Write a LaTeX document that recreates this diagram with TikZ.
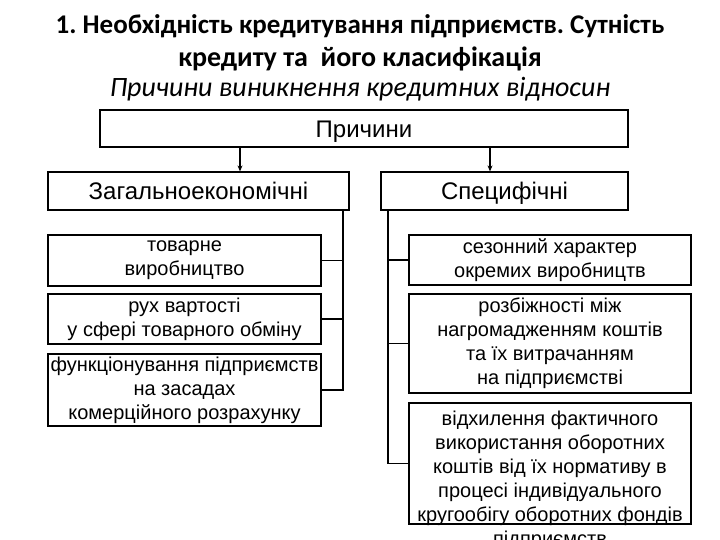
\documentclass[tikz,border=0pt]{standalone}
\usepackage{fontspec}
\setmainfont{Liberation Sans}
\newfontfamily\titlefont{Carlito}
\usetikzlibrary{arrows.meta}
\frenchspacing
\begin{document}
\frenchspacing
\begin{tikzpicture}[x=1pt,y=-1pt,
  box/.style={draw=black,line width=1.2pt,inner sep=0pt,align=center,
    font=\frenchspacing\fontsize{20}{24}\selectfont},
  headbox/.style={box,font=\fontsize{24}{28}\selectfont,text height=19.2pt,text depth=2pt},
  conn/.style={line width=1.2pt},
  arr/.style={line width=1.2pt,-{Stealth[length=6pt,width=5pt]}},
  ttl/.style={font=\titlefont\bfseries\fontsize{27}{32}\selectfont\frenchspacing,inner sep=0pt,anchor=base},
  subttl/.style={font=\titlefont\itshape\fontsize{28}{32}\selectfont,inner sep=0pt,anchor=base}]
\useasboundingbox (0,0) rectangle (720,540);
\node[ttl] (t1) at (360,34) {1. Необхідність кредитування підприємств. Сутність};
\node[ttl,font=\titlefont\bfseries\fontsize{28}{32}\selectfont] (t2) at (360,67) {кредиту та\ \ його класифікація};
\node[subttl] (t3) at (360,97) {Причини виникнення кредитних відносин};

\node[headbox,minimum width=528pt,minimum height=37pt] (pr) at (364,128.5) {Причини};
\node[headbox,minimum width=301pt,minimum height=38pt] (zag) at (198.5,191) {Загальноекономічні};
\node[headbox,minimum width=247pt,minimum height=38pt] (spe) at (504.5,191) {Специфічні};

\node[box,minimum width=273pt,minimum height=51pt] (l1) at (184.5,260.5) {товарне\\виробництво};
\node[box,minimum width=273pt,minimum height=50pt] (l2) at (184.5,319) {рух вартості\\у сфері товарного обміну};
\node[box,minimum width=273pt,minimum height=72pt] (l3) at (184.5,390) {функціонування підприємств\\на засадах\\комерційного розрахунку};

\node[box,minimum width=282pt,minimum height=50pt] (r1) at (550,260) {сезонний характер\\окремих виробництв};
\node[box,minimum width=282pt,minimum height=99pt] (r2) at (550,343.5) {розбіжності між\\нагромадженням коштів\\та їх витрачанням\\на підприємстві};
\node[box,minimum width=282pt,minimum height=121pt] (r3) at (550,463.5) {};
\node[font=\fontsize{20}{24}\selectfont,align=center,inner sep=0pt,anchor=north] (r3t) at ([yshift=-8pt]r3.north) {відхилення фактичного\\використання оборотних\\коштів від їх нормативу в\\процесі індивідуального\\кругообігу оборотних фондів\\підприємств};

\coordinate (pa) at (240,147);
\coordinate (pb) at (490,147);
\draw[arr] (pa) -- (pa |- zag.north);
\draw[arr] (pb) -- (pb |- spe.north);

\coordinate (lt) at (343,210);
\draw[conn] (lt) |- (l3.east);
\draw[conn] (l1.east) -- (l1.east -| lt);
\draw[conn] (l2.east) -- (l2.east -| lt);

\coordinate (rt) at (388,210);
\draw[conn] (rt) |- (r3.west);
\draw[conn] (r1.west) -- (r1.west -| rt);
\draw[conn] (r2.west) -- (r2.west -| rt);
\end{tikzpicture}
\end{document}
